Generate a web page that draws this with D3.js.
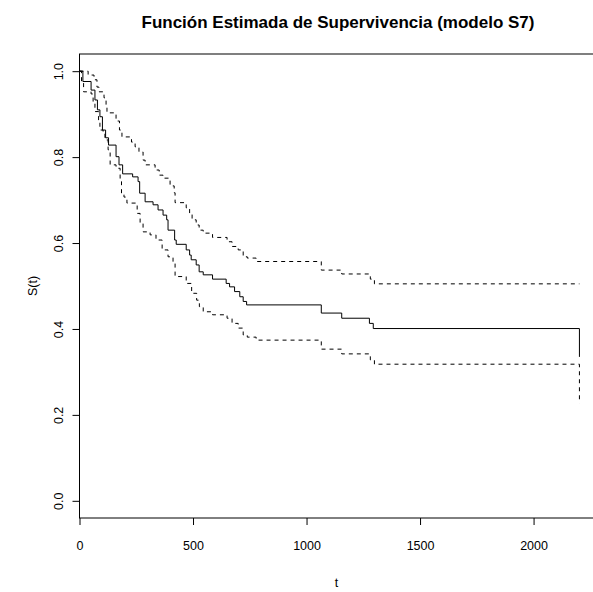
<!DOCTYPE html>
<html>
<head>
<meta charset="utf-8">
<script src="https://cdn.jsdelivr.net/npm/d3@7"></script>
<style>
  html, body { margin: 0; padding: 0; background: #fff; }
  svg { display: block; }
  text { font-family: "Liberation Sans", Arial, sans-serif; fill: #000; }
</style>
</head>
<body>
<script>
// ---- Data ----
const title = "Función Estimada de Supervivencia (modelo S7)";
const xLabel = "t";
const yLabel = "S(t)";
const xTicks = [0, 500, 1000, 1500, 2000];
const yTicks = [0.0, 0.2, 0.4, 0.6, 0.8, 1.0];

// Kaplan-Meier estimate: step times and survival after each step
const survTime = [0, 15, 51, 68, 79, 90, 101, 115, 128, 161, 174, 190, 234, 258, 265, 289, 324, 346, 368, 384, 390, 419, 426, 470, 485, 492, 514, 527, 545, 586, 646, 661, 683, 706, 721, 736, 1065, 1155, 1277, 1294, 2202];
const survVal  = [1.000, 0.976, 0.956, 0.933, 0.910, 0.894, 0.863, 0.845, 0.828, 0.801, 0.782, 0.761, 0.754, 0.743, 0.716, 0.696, 0.689, 0.677, 0.665, 0.654, 0.630, 0.607, 0.597, 0.584, 0.572, 0.561, 0.549, 0.533, 0.526, 0.516, 0.506, 0.498, 0.487, 0.475, 0.464, 0.456, 0.437, 0.425, 0.413, 0.401, 0.335];

// Upper confidence limit
const upperTime = [0, 38, 64, 77, 86, 108, 117, 121, 161, 176, 187, 229, 245, 262, 280, 289, 333, 351, 368, 399, 417, 421, 470, 485, 496, 514, 527, 545, 586, 650, 672, 699, 721, 739, 778, 1065, 1155, 1281, 1299, 2202];
const upperVal  = [1.000, 0.991, 0.980, 0.963, 0.952, 0.938, 0.917, 0.903, 0.884, 0.863, 0.847, 0.835, 0.824, 0.812, 0.793, 0.782, 0.770, 0.758, 0.751, 0.733, 0.717, 0.694, 0.682, 0.668, 0.654, 0.642, 0.630, 0.623, 0.613, 0.603, 0.592, 0.584, 0.568, 0.565, 0.557, 0.537, 0.528, 0.516, 0.505, 0.505];

// Lower confidence limit
const lowerTime = [0, 9, 18, 51, 60, 68, 84, 90, 104, 112, 126, 135, 161, 179, 185, 196, 209, 254, 267, 280, 311, 337, 364, 390, 412, 421, 470, 494, 516, 528, 545, 586, 650, 672, 699, 721, 739, 778, 1065, 1155, 1281, 1299, 2202];
const lowerVal  = [1.000, 0.975, 0.952, 0.947, 0.925, 0.906, 0.886, 0.863, 0.859, 0.840, 0.817, 0.782, 0.774, 0.743, 0.716, 0.707, 0.693, 0.669, 0.646, 0.626, 0.619, 0.607, 0.584, 0.568, 0.553, 0.522, 0.506, 0.483, 0.467, 0.452, 0.440, 0.433, 0.425, 0.413, 0.402, 0.386, 0.381, 0.374, 0.353, 0.342, 0.328, 0.318, 0.227];

// ---- Layout ----
const W = 593, H = 592;
const plot = { left: 79.5, right: 593.5, top: 54, bottom: 518 };

const svg = d3.select("body").append("svg").attr("width", W).attr("height", H);

const x = d3.scaleLinear().domain([0, 2264]).range([plot.left, plot.right]);
const y = d3.scaleLinear().domain([-0.04, 1.04]).range([plot.bottom, plot.top]);

// Box
svg.append("rect")
  .attr("x", plot.left).attr("y", plot.top)
  .attr("width", plot.right - plot.left).attr("height", plot.bottom - plot.top)
  .attr("fill", "none").attr("stroke", "#000").attr("stroke-width", 1);

// Axes
const xAxis = d3.axisBottom(x).tickValues(xTicks).tickSize(7).tickPadding(16).tickFormat(d3.format("d"));
const gx = svg.append("g").attr("transform", `translate(0,${plot.bottom})`).call(xAxis);
gx.select(".domain").remove();
gx.selectAll("text").attr("font-size", 12.5).attr("font-family", "Liberation Sans, Arial, sans-serif").attr("fill", "#000");
gx.selectAll("line").attr("stroke", "#000");

const yAxis = d3.axisLeft(y).tickValues(yTicks).tickSize(7).tickFormat(d3.format(".1f"));
const gy = svg.append("g").attr("transform", `translate(${plot.left},0)`).call(yAxis);
gy.select(".domain").remove();
gy.selectAll("line").attr("stroke", "#000");
gy.selectAll("text")
  .attr("font-size", 12.5).attr("font-family", "Liberation Sans, Arial, sans-serif").attr("fill", "#000")
  .attr("x", null).attr("dy", null).attr("y", null)
  .attr("text-anchor", "middle")
  .attr("dominant-baseline", "central")
  .attr("transform", `translate(${59 - plot.left},0) rotate(-90)`);

// Series
function series(times, vals) { return times.map((t, i) => [t, vals[i]]); }
const line = d3.line().x(d => x(d[0])).y(d => y(d[1])).curve(d3.curveStepAfter);

svg.append("path").datum(series(upperTime, upperVal))
  .attr("d", line).attr("fill", "none").attr("stroke", "#000").attr("stroke-width", 1)
  .attr("stroke-dasharray", "4,4");
svg.append("path").datum(series(lowerTime, lowerVal))
  .attr("d", line).attr("fill", "none").attr("stroke", "#000").attr("stroke-width", 1)
  .attr("stroke-dasharray", "4,4");
svg.append("path").datum(series(survTime, survVal))
  .attr("d", line).attr("fill", "none").attr("stroke", "#000").attr("stroke-width", 1);

// Titles
svg.append("text").attr("x", 338).attr("y", 22)
  .attr("text-anchor", "middle").attr("dominant-baseline", "central")
  .attr("font-size", 17).attr("font-weight", "bold").text(title);
svg.append("text").attr("x", (plot.left + plot.right) / 2).attr("y", 583)
  .attr("text-anchor", "middle").attr("dominant-baseline", "central")
  .attr("font-size", 12.5).text(xLabel);
svg.append("text")
  .attr("transform", `translate(33,${(plot.top + plot.bottom) / 2}) rotate(-90)`)
  .attr("text-anchor", "middle").attr("dominant-baseline", "central")
  .attr("font-size", 12.5).text(yLabel);
</script>
</body>
</html>
